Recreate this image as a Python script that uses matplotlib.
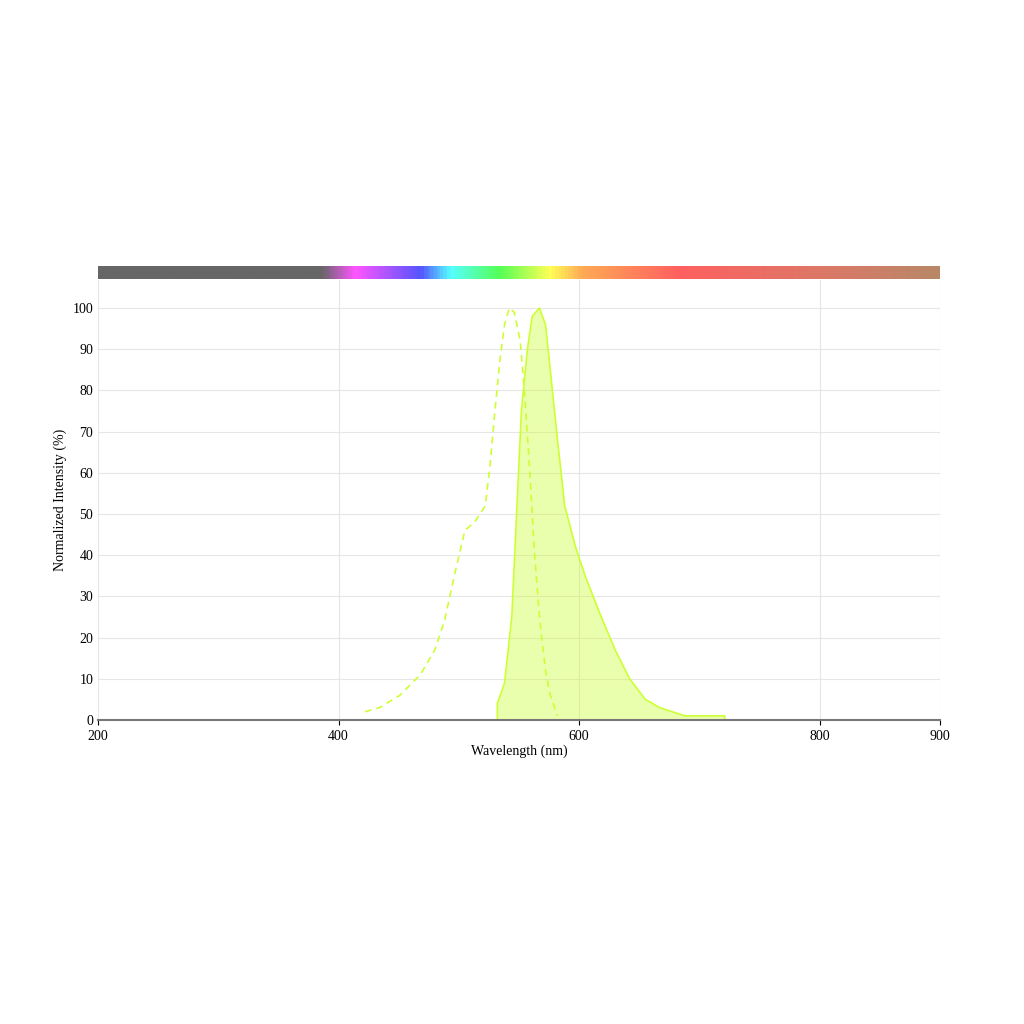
import numpy as np
import matplotlib.pyplot as plt
from matplotlib.colors import LinearSegmentedColormap

# excitation (dashed)
ex_wl = [422, 434, 451, 468, 480, 488, 497, 505, 513, 522, 526, 530, 534, 538, 542, 546, 551, 555, 559, 563, 567, 572, 576, 582]
ex_val = [2, 3, 6, 11, 17, 24, 36, 46, 48, 52, 62, 75, 87, 96, 100, 99, 92, 78, 60, 40, 25, 12, 6, 1]

# emission (filled)
em_wl = [532, 532, 538, 544, 548, 552, 557, 561, 567, 572, 576, 582, 588, 597, 605, 617, 630, 642, 655, 667, 688, 721, 721, 796]
em_val = [0, 4, 9, 25, 50, 75, 90, 98, 100, 96, 85, 68, 52, 42, 35, 26, 17, 10, 5, 3, 1, 1, 0, 0]

# wavelength colour bar
bar_pos = [200, 385, 413, 468, 493, 534, 576, 603, 684, 800, 900]
bar_col = ['#666666', '#666666', '#ff55ff', '#5555ff', '#55ffff', '#55ff55', '#ffff55',
           '#ffaa55', '#ff6060', '#dd7766', '#b88866']

green = '#ccff33'
fig = plt.figure(figsize=(10.24, 10.24), dpi=100)
ax = fig.add_axes([98/1024, 1-720/1024, 842/1024, 440/1024])
bax = fig.add_axes([98/1024, 1-279/1024, 842/1024, 13/1024])

ax.fill_between(em_wl, em_val, color=green, alpha=0.4, lw=0)
ax.plot(em_wl, em_val, color=green, lw=1.2)
ax.plot(ex_wl, ex_val, color=green, lw=1.2, ls=(0, (4, 3)))

ax.set_xlim(200, 900)
ax.set_ylim(0, 106.8)
ax.set_xticks([200, 400, 600, 800, 900])
ax.set_yticks(range(0, 101, 10))
ax.grid(color='#e6e6e6', lw=0.8)
ax.set_axisbelow(True)
for s in ['top', 'right', 'left']:
    ax.spines[s].set_visible(False)
ax.spines['bottom'].set_color('#777777')
ax.spines['bottom'].set_linewidth(1.5)
ax.tick_params(axis='y', length=0, labelsize=10)
ax.tick_params(axis='x', labelsize=10)
for lab in ax.get_xticklabels() + ax.get_yticklabels():
    lab.set_fontfamily('Liberation Serif')
ax.set_xlabel('Wavelength (nm)', family='Liberation Serif', fontsize=10, labelpad=1)
ax.set_ylabel('Normalized Intensity (%)', family='Liberation Serif', fontsize=10)

cmap = LinearSegmentedColormap.from_list('wl', [((p-200)/700, c) for p, c in zip(bar_pos, bar_col)])
bax.imshow(np.linspace(0, 1, 700)[None, :], aspect='auto', cmap=cmap, extent=[200, 900, 0, 1])
bax.axis('off')

fig.savefig('out.png')
